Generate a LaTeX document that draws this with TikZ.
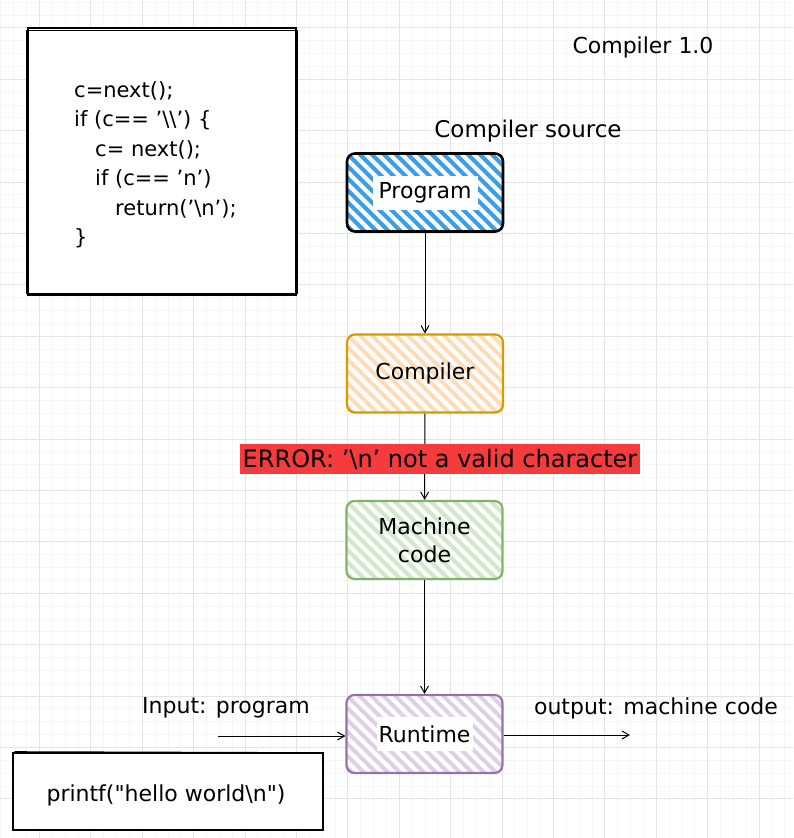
\documentclass[tikz,border=0pt]{standalone}
\usepackage{fontspec}
\setmainfont{DejaVu Sans}
\usetikzlibrary{arrows.meta,calc}
\definecolor{gridminor}{HTML}{F6F6F6}
\definecolor{gridmajor}{HTML}{E4E4E4}
\definecolor{progblue}{HTML}{3A9FE5}
\definecolor{orstroke}{HTML}{D79B00}
\definecolor{orfill}{HTML}{FFDCB8}
\definecolor{grstroke}{HTML}{82B366}
\definecolor{grfill}{HTML}{D2E8CB}
\definecolor{pustroke}{HTML}{9673A6}
\definecolor{pufill}{HTML}{DFD0E8}
\definecolor{errred}{HTML}{F53B3B}
\begin{document}
\begin{tikzpicture}[x=1pt,y=-1pt,
  lab/.style={font=\fontsize{22}{26}\selectfont, inner sep=0pt},
  codeline/.style={font=\fontsize{21}{26}\selectfont, inner sep=0pt, anchor=base west},
  hatch/.style n args={4}{path picture={
     \foreach \k in {-9,...,15}{
       \draw[#1,line width=#2,sharp corners] ([xshift=\k*12pt]path picture bounding box.north west) -- ++(100pt,-100pt);}
     \fill[white,sharp corners] ([shift={(-#3/2*1pt,#4/2*1pt)}]path picture bounding box.center) rectangle ([shift={(#3/2*1pt,-#4/2*1pt)}]path picture bounding box.center);
  }},
  box/.style={rounded corners=8pt, minimum width=156pt, minimum height=78pt, inner sep=0pt, align=center, fill=white, font=\fontsize{22}{28}\selectfont},
  arr/.style={line width=1pt, -{Straight Barb[length=7pt,width=8pt]}},
  plainbox/.style={fill=white, inner sep=0pt}
]
\useasboundingbox (0,0) rectangle (793,838);
\fill[white] (0,0) rectangle (793,838);
% grid
\foreach \i in {0,...,62}{
  \draw[gridminor, line width=0.6pt] ({0.75+\i*12.85},0) -- ({0.75+\i*12.85},838);
  \draw[gridminor, line width=0.6pt] (0,{2+\i*12.85}) -- (793,{2+\i*12.85});
}
\foreach \i in {0,...,16}{
  \draw[gridmajor, line width=0.8pt] ({39.3+\i*51.4},0) -- ({39.3+\i*51.4},838);
}
\foreach \i in {-1,...,16}{
  \draw[gridmajor, line width=0.8pt] (0,{27.7+\i*51.4}) -- (793,{27.7+\i*51.4});
}

% code box
\node[plainbox, draw=black, line width=2.4pt, minimum width=268pt, minimum height=267pt] (codebox) at (162,161.5) {};
\draw[line width=0.8pt] (26.5,30) rectangle (297.5,293.5);
\node[codeline] (c1) at (74,97) {c=next();};
\node[codeline] (c2) at (74,126.5) {if (c== '\textbackslash\textbackslash') \{};
\node[codeline] (c3) at (95,156) {c= next();};
\node[codeline] (c4) at (95,185.5) {if (c== 'n')};
\node[codeline] (c5) at (115,215) {return('\textbackslash n');};
\node[codeline] (c6) at (74,244.5) {\}};

% titles
\node[lab] (title) at (643,47) {Compiler 1.0};
\node[lab, font=\fontsize{23}{27}\selectfont] (src) at (528,131) {Compiler source};

% boxes
\node[box, draw=black, line width=2.6pt, hatch={progblue}{4.2pt}{105}{34}] (prog) at (425,192.5) {Program};
\node[box, draw=orstroke, line width=2.2pt, hatch={orfill}{4.2pt}{0}{0}] (comp) at (425,373.5) {Compiler};
\node[box, draw=grstroke, line width=2.2pt, hatch={grfill}{4.2pt}{0}{0}] (mach) at (424.5,540) {Machine\\code};
\node[box, draw=pustroke, line width=2.2pt, hatch={pufill}{4.2pt}{96}{34}] (run) at (424.5,734) {Runtime};

% connectors
\draw[arr] (prog) -- (comp);
\draw[arr] (comp) -- (mach);
\draw[arr] (mach) -- (run);
\node[lab, font=\fontsize{24}{28}\selectfont, fill=errred, minimum width=400pt, minimum height=30pt] (err) at (440,459) {ERROR: '\textbackslash n' not a valid character};

% input / output
\node[lab] (inlab) at (226,708) {Input: program};
\node[lab] (outlab) at (656,708) {output: machine code};
\coordinate (instart) at (218,736);
\coordinate (outend) at (630,735);
\draw[arr] (instart) -- (run.west |- instart);
\draw[arr] (run.east |- outend) -- (outend);

% printf box
\node[plainbox, draw=black, line width=1.4pt, minimum width=310pt, minimum height=77pt] (pbox) at (168,791.5) {};
\draw[line width=0.6pt] (14.5,751.5) -- (322,752.5);
\node[lab] (ptext) at (166,795) {printf(\textquotedbl hello world\textbackslash n\textquotedbl)};
\end{tikzpicture}
\end{document}
